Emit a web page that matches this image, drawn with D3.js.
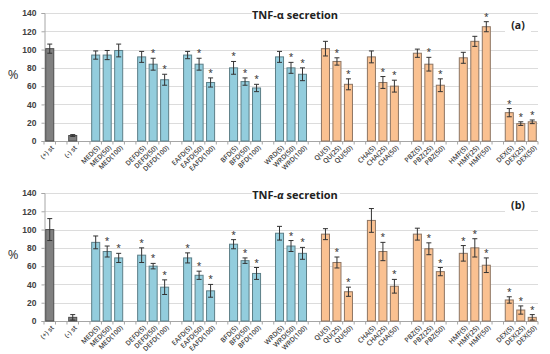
<!DOCTYPE html>
<html>
<head>
<meta charset="utf-8">
<script src="https://cdn.jsdelivr.net/npm/d3@7"></script>
<style>
  body { margin: 0; background: #fff; }
  svg { display: block; font-family: "Open Sans", "Liberation Sans", sans-serif; }
</style>
</head>
<body>
<svg id="chart" width="550" height="354"></svg>
<script>
// categories, group (for gaps) and kind (for colour)
var labels = ["(+) st","(-) st","MED(5)","MED(50)","MED(100)","DEFD(5)","DEFD(50)","DEFD(100)",
	"EAFD(5)","EAFD(50)","EAFD(100)","BFD(5)","BFD(50)","BFD(100)","WRD(5)","WRD(50)","WRD(100)",
	"QU(5)","QU(25)","QU(50)","CHA(5)","CHA(25)","CHA(50)","PBZ(5)","PBZ(25)","PBZ(50)",
	"HMF(5)","HMF(25)","HMF(50)","DEX(5)","DEX(25)","DEX(50)"];
var groups = ["pos","neg","MED","MED","MED","DEFD","DEFD","DEFD","EAFD","EAFD","EAFD","BFD","BFD","BFD",
	"WRD","WRD","WRD","QU","QU","QU","CHA","CHA","CHA","PBZ","PBZ","PBZ","HMF","HMF","HMF","DEX","DEX","DEX"];
var kinds = ["ctrl","ctrl","ext","ext","ext","ext","ext","ext","ext","ext","ext","ext","ext","ext","ext","ext","ext",
	"cmp","cmp","cmp","cmp","cmp","cmp","cmp","cmp","cmp","cmp","cmp","cmp","cmp","cmp","cmp"];

// panel (a)
var valuesA = [101,6,94,94,99,92,84,67,94,84,64,80,65,58,92,80,73,101,87,62,92,64,60,96,84,61,91,109,125,31,19,21];
var errorsA = [5,1,4.5,5,7,6,6.5,6,4,6.5,5,7,4,4,6,6,7,8,4,6,6.5,6.5,6.5,4.5,7.5,7,6,5.5,5.5,4.5,2,2];
var starsA  = [0,0,0,0,0,0,1,1,0,1,1,1,1,1,0,1,1,0,1,1,0,1,1,0,1,1,0,0,1,1,1,1];
// panel (b)
var valuesB = [100,4,86,76,69,72,60,37,69,50,33,84,66,52,96,82,74,95,64,32,110,76,38,95,79,54,74,80,61,23,12,4];
var errorsB = [12,3,7,6,5,8,3,8,5.5,4.5,7,5,3,6.5,7.5,6,6.5,6,6,5,13,10,7.5,6.5,6.5,4.5,8.5,10,8,3.5,4.5,3];
var starsB  = [0,0,0,1,1,1,1,1,1,1,1,1,1,1,0,1,1,0,1,1,0,1,1,0,1,1,1,1,1,1,1,1];

var yTicks = [0,20,40,60,80,100,120,140];

var colors = {
	ctrl: {fill: "#808080", stroke: "#4d4d4d"},
	ext:  {fill: "#93cddd", stroke: "#5d7f88"},
	cmp:  {fill: "#fac191", stroke: "#8d7563"}
};

// band domain with a blank slot between groups
var domain = [];
labels.forEach(function(d, i){
	if(i > 0 && groups[i] != groups[i-1]) domain.push("gap" + i);
	domain.push(d);
});

var svg = d3.select("#chart");
var x = d3.scaleBand().domain(domain).range([44, 538]).paddingInner(0.3).paddingOuter(0.15);
var step = x.step();

function drawPanel(top, values, errors, stars, tag){
	var y = d3.scaleLinear().domain([0,140]).range([top + 128, top]);
	var g = svg.append("g");
	var data = labels.map(function(d, i){
		return {label: d, v: values[i], e: errors[i], s: stars[i], k: kinds[i]};
	});

	// gridlines
	g.selectAll(".grid").data(yTicks.slice(1)).enter().append("line")
		.attr("x1", 44).attr("x2", 538)
		.attr("y1", function(d){return Math.round(y(d)) + 0.5;})
		.attr("y2", function(d){return Math.round(y(d)) + 0.5;})
		.attr("stroke", "#dcdcdc").attr("stroke-width", 1);

	// y axis
	var yAxis = d3.axisLeft(y).tickValues(yTicks).tickSize(3).tickPadding(5);
	var ya = g.append("g").attr("transform", "translate(44.5,0)").call(yAxis);
	ya.select(".domain").attr("stroke", "#a6a6a6");
	ya.selectAll(".tick line").attr("stroke", "#a6a6a6");
	ya.selectAll("text").attr("font-size", 8.5).attr("font-weight", 600).attr("fill", "#404040");

	// x axis baseline and ticks at slot boundaries
	var base = Math.round(y(0)) + 0.5;
	g.append("line").attr("x1", 44).attr("x2", 538).attr("y1", base).attr("y2", base)
		.attr("stroke", "#a6a6a6");
	g.selectAll(".xt").data(d3.range(domain.length + 1)).enter().append("line")
		.attr("x1", function(i){return 44 + i*step;}).attr("x2", function(i){return 44 + i*step;})
		.attr("y1", base).attr("y2", base + 3).attr("stroke", "#a6a6a6");

	// bars
	g.selectAll(".bar").data(data).enter().append("rect")
		.attr("x", function(d){return x(d.label);})
		.attr("width", x.bandwidth())
		.attr("y", function(d){return y(d.v);})
		.attr("height", function(d){return y(0) - y(d.v);})
		.attr("fill", function(d){return colors[d.k].fill;})
		.attr("stroke", function(d){return colors[d.k].stroke;})
		.attr("stroke-width", 1);

	// error bars
	var eb = g.selectAll(".err").data(data).enter().append("g");
	eb.append("line")
		.attr("x1", function(d){return x(d.label) + x.bandwidth()/2;})
		.attr("x2", function(d){return x(d.label) + x.bandwidth()/2;})
		.attr("y1", function(d){return y(d.v + d.e);})
		.attr("y2", function(d){return y(Math.max(0, d.v - d.e));});
	eb.append("line")
		.attr("x1", function(d){return x(d.label) + x.bandwidth()/2 - 2.5;})
		.attr("x2", function(d){return x(d.label) + x.bandwidth()/2 + 2.5;})
		.attr("y1", function(d){return y(d.v + d.e);})
		.attr("y2", function(d){return y(d.v + d.e);});
	eb.append("line")
		.attr("x1", function(d){return x(d.label) + x.bandwidth()/2 - 2.5;})
		.attr("x2", function(d){return x(d.label) + x.bandwidth()/2 + 2.5;})
		.attr("y1", function(d){return y(Math.max(0, d.v - d.e));})
		.attr("y2", function(d){return y(Math.max(0, d.v - d.e));});
	eb.selectAll("line").attr("stroke", "#333").attr("stroke-width", 1);

	// significance stars
	g.selectAll(".star").data(data.filter(function(d){return d.s;})).enter().append("text")
		.attr("x", function(d){return x(d.label) + x.bandwidth()/2;})
		.attr("y", function(d){return y(d.v + d.e) - 2;})
		.attr("text-anchor", "middle").attr("font-size", 8.5).attr("fill", "#222")
		.text("*");

	// x labels
	g.selectAll(".xl").data(data).enter().append("text")
		.attr("transform", function(d){
			return "translate(" + (x(d.label) + x.bandwidth()/2 + 3) + "," + (base + 5) + ") rotate(-45)";
		})
		.attr("text-anchor", "end").attr("dy", "0.35em")
		.attr("font-size", 6.8).attr("font-weight", 600).attr("fill", "#404040")
		.text(function(d){return d.label;});

	// y label
	g.append("text").attr("x", 13).attr("y", top + 66).attr("text-anchor", "middle")
		.attr("font-size", 13).attr("fill", "#333").text("%");

	// title with white backing
	g.append("rect").attr("x", 252).attr("y", top - 6).attr("width", 88).attr("height", 15).attr("fill", "#fff");
	var t = g.append("text").attr("x", 295).attr("y", top + 6).attr("text-anchor", "middle")
		.attr("font-size", 11).attr("font-weight", "bold").attr("fill", "#222");
	t.append("tspan").text("TNF-");
	t.append("tspan").attr("font-style", tag == "(b)" ? "italic" : "normal").text("α");
	t.append("tspan").text(" secretion");

	g.append("rect").attr("x", 505).attr("y", top + 5).attr("width", 26).attr("height", 16).attr("fill", "#fff");
	g.append("text").attr("x", 518).attr("y", top + 16).attr("text-anchor", "middle")
		.attr("font-size", 10.5).attr("font-weight", "bold").attr("fill", "#222").text(tag);
}

drawPanel(13, valuesA, errorsA, starsA, "(a)");
drawPanel(193, valuesB, errorsB, starsB, "(b)");
</script>
</body>
</html>
